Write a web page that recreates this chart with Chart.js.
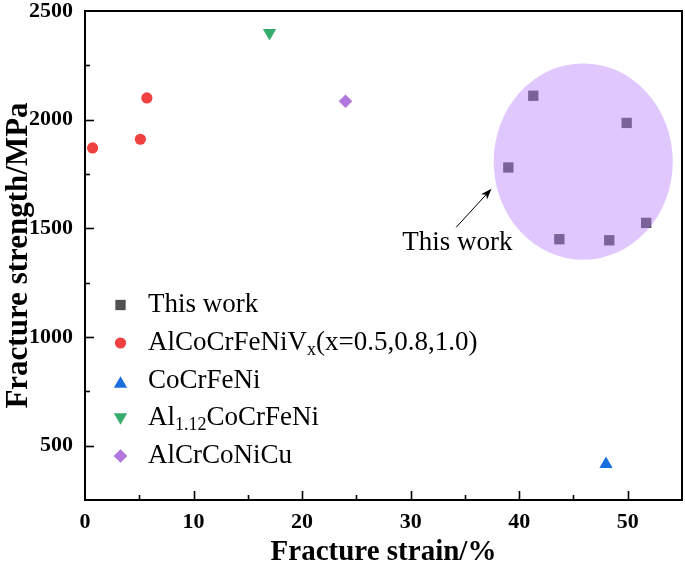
<!DOCTYPE html>
<html>
<head>
<meta charset="utf-8">
<script src="https://cdn.jsdelivr.net/npm/chart.js@4/dist/chart.umd.min.js"></script>
<style>
  html, body { margin: 0; padding: 0; background: #fff; }
  #wrap { width: 685px; height: 574px; }
</style>
</head>
<body>
<div id="wrap"><canvas id="c" width="685" height="574"></canvas></div>
<script>
// ---- data ----
const seriesNames = ['This work', 'AlCoCrFeNiVx(x=0.5,0.8,1.0)', 'CoCrFeNi', 'Al1.12CoCrFeNi', 'AlCrCoNiCu'];
const legendLabels = ['This work', 'AlCoCrFeNiV_{x}(x=0.5,0.8,1.0)', 'CoCrFeNi', 'Al_{1.12}CoCrFeNi', 'AlCrCoNiCu'];

const thisWorkStrain = [41.3, 49.9, 39.0, 51.7, 43.7, 48.3];
const thisWorkStrength = [2110, 1985, 1780, 1525, 1450, 1445];

const vStrain = [0.7, 5.1, 5.7];
const vStrength = [1870, 1910, 2100];

const cocrfeniStrain = [48.0];
const cocrfeniStrength = [415];

const al112Strain = [17.0];
const al112Strength = [2400];

const alcrconicuStrain = [24.0];
const alcrconicuStrength = [2085];

const xTickValues = [0, 10, 20, 30, 40, 50];
const yTickValues = [500, 1000, 1500, 2000, 2500];

// annotation (ellipse + arrow label) in data units
const highlight = { cx: 45.9, cy: 1807, rx: 8.25, ry: 452 };
const noteText = 'This work';
const notePos = { x: 34.3, y: 1433 };
const arrowFrom = { x: 34.2, y: 1505 };
const arrowTo = { x: 37.45, y: 1682 };

function pts(xs, ys) { return xs.map((x, i) => ({ x: x, y: ys[i] })); }

const SERIF = '"Liberation Serif", "Times New Roman", serif';

const datasets = [
  { label: seriesNames[0], data: pts(thisWorkStrain, thisWorkStrength), pointStyle: 'rect', pointRadius: 7.3, backgroundColor: '#515151' },
  { label: seriesNames[1], data: pts(vStrain, vStrength), pointStyle: 'circle', pointRadius: 5.6, backgroundColor: '#F14040' },
  { label: seriesNames[2], data: pts(cocrfeniStrain, cocrfeniStrength), pointStyle: 'triangle', pointRadius: 7.7, backgroundColor: '#1A6FDF' },
  { label: seriesNames[3], data: pts(al112Strain, al112Strength), pointStyle: 'triangle', pointRotation: 180, pointRadius: 7.7, backgroundColor: '#37AD6B' },
  { label: seriesNames[4], data: pts(alcrconicuStrain, alcrconicuStrength), pointStyle: 'rectRot', pointRadius: 6.8, backgroundColor: '#B177DE' }
].map(d => Object.assign({ borderWidth: 0, borderColor: d.backgroundColor, pointHoverRadius: d.pointRadius, showLine: false }, d));

function drawRich(ctx, text, x, y, size) {
  const parts = [];
  const re = /_\{([^}]*)\}/g;
  let last = 0, m;
  while ((m = re.exec(text))) {
    if (m.index > last) parts.push({ t: text.slice(last, m.index), sub: false });
    parts.push({ t: m[1], sub: true });
    last = re.lastIndex;
  }
  if (last < text.length) parts.push({ t: text.slice(last), sub: false });
  let cx = x;
  for (const p of parts) {
    ctx.font = (p.sub ? Math.round(size * 0.68) : size) + 'px ' + SERIF;
    ctx.fillText(p.t, cx, p.sub ? y + size * 0.28 : y);
    cx += ctx.measureText(p.t).width;
  }
}

function drawMarker(ctx, ds, x, y) {
  const opts = { pointStyle: ds.pointStyle, radius: ds.pointRadius, rotation: ds.pointRotation || 0, borderWidth: 0 };
  ctx.fillStyle = ds.backgroundColor;
  ctx.strokeStyle = ds.backgroundColor;
  if (Chart.helpers && Chart.helpers.drawPoint) {
    Chart.helpers.drawPoint(ctx, opts, x, y);
  } else {
    ctx.beginPath(); ctx.arc(x, y, ds.pointRadius, 0, Math.PI * 2); ctx.fill();
  }
}

const decor = {
  id: 'decor',
  afterDatasetsDraw(chart) {
    const ctx = chart.ctx;
    const xs = chart.scales.x, ys = chart.scales.y;
    const area = chart.chartArea;
    const cx = xs.getPixelForValue(highlight.cx), cy = ys.getPixelForValue(highlight.cy);
    const rx = Math.abs(xs.getPixelForValue(highlight.cx + highlight.rx) - cx);
    const ry = Math.abs(ys.getPixelForValue(highlight.cy + highlight.ry) - cy);
    ctx.save();
    ctx.fillStyle = 'rgba(181,124,255,0.42)';
    ctx.beginPath(); ctx.ellipse(cx, cy, rx, ry, 0, 0, Math.PI * 2); ctx.fill();
    ctx.restore();

    const ax = xs.getPixelForValue(arrowFrom.x), ay = ys.getPixelForValue(arrowFrom.y);
    const bx = xs.getPixelForValue(arrowTo.x), by = ys.getPixelForValue(arrowTo.y);
    const ang = Math.atan2(by - ay, bx - ax);
    ctx.save();
    ctx.strokeStyle = '#000'; ctx.fillStyle = '#000'; ctx.lineWidth = 1;
    ctx.beginPath(); ctx.moveTo(ax, ay); ctx.lineTo(bx - 8 * Math.cos(ang), by - 8 * Math.sin(ang)); ctx.stroke();
    ctx.beginPath();
    ctx.moveTo(bx, by);
    ctx.lineTo(bx - 11 * Math.cos(ang) + 4 * Math.sin(ang), by - 11 * Math.sin(ang) - 4 * Math.cos(ang));
    ctx.lineTo(bx - 8 * Math.cos(ang), by - 8 * Math.sin(ang));
    ctx.lineTo(bx - 11 * Math.cos(ang) - 4 * Math.sin(ang), by - 11 * Math.sin(ang) + 4 * Math.cos(ang));
    ctx.closePath(); ctx.fill();
    ctx.font = '27px ' + SERIF;
    ctx.textAlign = 'center'; ctx.textBaseline = 'middle';
    ctx.fillText(noteText, xs.getPixelForValue(notePos.x), ys.getPixelForValue(notePos.y));
    ctx.restore();

    ctx.save();
    ctx.textAlign = 'left'; ctx.textBaseline = 'middle'; ctx.fillStyle = '#000';
    const rowY = [305, 343, 381, 418, 456];
    chart.data.datasets.forEach((ds, i) => {
      const y = rowY[i];
      drawMarker(ctx, ds, 120.5, ds.pointStyle === 'triangle' ? y + (ds.pointRotation ? -1 : 3) : y);
      ctx.fillStyle = '#000';
      drawRich(ctx, legendLabels[i], 148, y, 27);
    });
    ctx.restore();

    ctx.save();
    ctx.strokeStyle = '#000';
    ctx.lineWidth = 1.6;
    xs.ticks.forEach(t => {
      const major = t.value % 10 === 0;
      if (t.value <= xs.min || t.value >= xs.max) return;
      const px = Math.round(xs.getPixelForValue(t.value)) + 0.5;
      ctx.beginPath(); ctx.moveTo(px, area.bottom); ctx.lineTo(px, area.bottom - (major ? 9 : 5)); ctx.stroke();
    });
    ys.ticks.forEach(t => {
      const major = t.value % 500 === 0;
      if (t.value <= ys.min || t.value >= ys.max) return;
      const py = Math.round(ys.getPixelForValue(t.value)) + 0.5;
      ctx.beginPath(); ctx.moveTo(area.left, py); ctx.lineTo(area.left + (major ? 9 : 5), py); ctx.stroke();
    });
    ctx.lineWidth = 2;
    ctx.strokeRect(area.left, area.top, area.right - area.left, area.bottom - area.top);
    ctx.restore();
  }
};

new Chart(document.getElementById('c'), {
  type: 'scatter',
  data: { datasets: datasets },
  plugins: [decor],
  options: {
    responsive: false,
    animation: false,
    devicePixelRatio: 1,
    layout: { autoPadding: false, padding: { top: 11, right: 3, left: 0, bottom: 0 } },
    plugins: { legend: { display: false }, tooltip: { enabled: false } },
    scales: {
      x: {
        type: 'linear', min: 0, max: 55,
        border: { display: false },
        grid: { display: false, drawTicks: false },
        ticks: {
          stepSize: 5, autoSkip: false, maxRotation: 0, padding: 9, color: '#000',
          font: { family: SERIF, size: 22, weight: 'bold' },
          callback: v => xTickValues.includes(v) ? String(v) : ''
        },
        title: { display: true, text: 'Fracture strain/%', color: '#000', padding: { top: 4, bottom: 4 },
          font: { family: SERIF, size: 29, weight: 'bold' } },
        afterFit: s => { s.height = 74; s.paddingLeft = 0; s.paddingRight = 0; }
      },
      y: {
        type: 'linear', min: 250, max: 2500,
        border: { display: false },
        grid: { display: false, drawTicks: false },
        ticks: {
          stepSize: 250, autoSkip: false, padding: 12, color: '#000',
          font: { family: SERIF, size: 22, weight: 'bold' },
          callback: v => yTickValues.includes(v) ? String(v) : ''
        },
        title: { display: true, text: 'Fracture strength/MPa', color: '#000', padding: { top: 0, bottom: 0 },
          font: { family: SERIF, size: 31, weight: 'bold' } },
        afterFit: s => { s.width = 85; s.paddingTop = 0; s.paddingBottom = 0; }
      }
    }
  }
});
</script>
</body>
</html>
